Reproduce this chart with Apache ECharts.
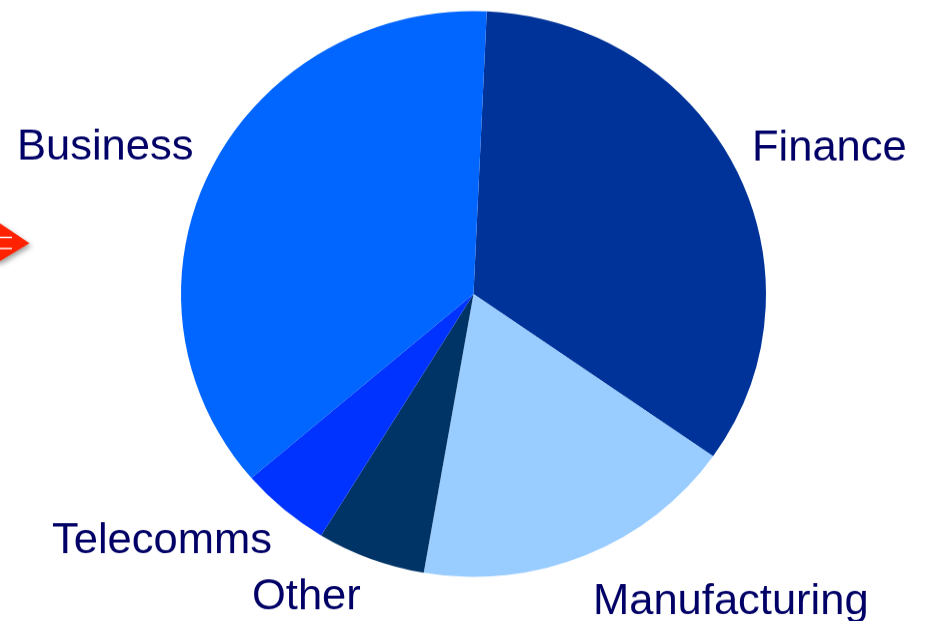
<!DOCTYPE html>
<html>
<head>
<meta charset="utf-8">
<title>Sector share</title>
<script src="https://cdn.jsdelivr.net/npm/echarts@6/dist/echarts.min.js"></script>
<style>
  html, body { margin: 0; padding: 0; background: #ffffff; overflow: hidden; }
  /* the whole drawing is slightly compressed vertically */
  #chart { width: 928px; height: 642px; transform: scaleY(0.967); transform-origin: 0 0; }
</style>
</head>
<body>
<div id="chart"></div>
<script>
// Sector shares (percent), listed clockwise from the top
const sectors = ['Finance', 'Manufacturing', 'Other', 'Telecomms', 'Business'];
const shares = [34, 18, 6, 5, 37];
const sectorColors = ['#003399', '#99CCFF', '#003366', '#0033FF', '#0066FF'];

// Label anchor points (left edge, vertical middle) for each sector name
const labelX = [752, 593, 252, 52, 17];
const labelY = [153.5, 622.5, 618, 560, 152.5];

const chart = echarts.init(document.getElementById('chart'), null, { renderer: 'canvas' });

const option = {
  backgroundColor: '#ffffff',
  animation: false,
  series: [{
    type: 'pie',
    center: [473.5, 304],
    radius: [0, 292.5],
    startAngle: 87.4,
    clockwise: true,
    minAngle: 0,
    avoidLabelOverlap: false,
    data: sectors.map((name, i) => ({
      name: name,
      value: shares[i],
      itemStyle: { color: sectorColors[i] }
    })),
    itemStyle: { borderWidth: 0 },
    emphasis: { disabled: true },
    label: {
      show: true,
      formatter: '{b}',
      color: '#000066',
      fontFamily: '"Liberation Sans", Arial, sans-serif',
      fontSize: 43.5
    },
    labelLine: { show: false },
    labelLayout: function (params) {
      const i = params.dataIndex;
      return { x: labelX[i], y: labelY[i], align: 'left', verticalAlign: 'middle' };
    }
  }],
  graphic: [{
    // orange pointer arrow entering from the left edge
    type: 'group',
    children: [{
      type: 'polygon',
      shape: { points: [[-20, 231], [0, 231], [29.5, 251.5], [0, 270], [-20, 270]] },
      style: {
        fill: '#FF2200',
        shadowColor: 'rgba(0,0,0,0.35)',
        shadowBlur: 5,
        shadowOffsetX: 2,
        shadowOffsetY: 3
      }
    }, {
      type: 'polyline',
      shape: { points: [[0, 245.5], [12, 245.5]] },
      style: { stroke: '#ffffff', lineWidth: 1.5 }
    }, {
      type: 'polyline',
      shape: { points: [[0, 257], [12, 257]] },
      style: { stroke: '#ffffff', lineWidth: 1.5 }
    }]
  }]
};

chart.setOption(option);
</script>
</body>
</html>
